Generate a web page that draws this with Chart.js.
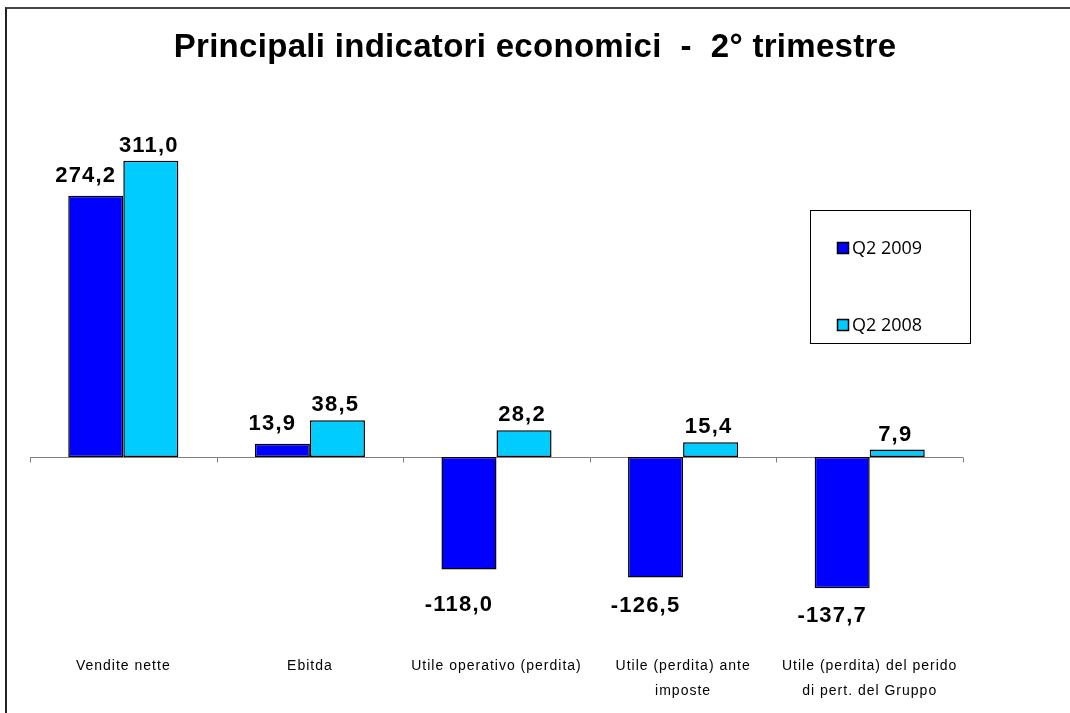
<!DOCTYPE html>
<html><head><meta charset="utf-8">
<script src="https://cdn.jsdelivr.net/npm/chart.js@4/dist/chart.umd.min.js"></script>
<style>
html,body{margin:0;padding:0;background:#fff;}
#wrap{position:absolute;left:0;top:0;width:1070px;height:713px;}
#frame{position:absolute;left:5px;top:7px;width:1065px;height:706px;border-top:2px solid #444;border-left:2px solid #222;box-sizing:border-box;pointer-events:none;}
canvas{position:absolute;left:0;top:0;}
</style></head><body>
<div id="wrap"><canvas id="c" width="1070" height="713"></canvas><div id="frame"></div></div>
<script>
const chartTitle = 'Principali indicatori economici  -  2° trimestre';
const categories = [['Vendite nette'], ['Ebitda'], ['Utile operativo (perdita)'], ['Utile (perdita) ante', 'imposte'], ['Utile (perdita) del perido', 'di pert. del Gruppo']];
const seriesNames = ['Q2 2009', 'Q2 2008'];
const q2_2009 = [274.2, 13.9, -118.0, -126.5, -137.7];
const q2_2008 = [311.0, 38.5, 28.2, 15.4, 7.9];

const colors = ['#0000FF', '#00CCFF'];
const fmt = v => v.toFixed(1).replace('.', ',');

const decor = {
  id: 'decor',
  beforeDraw(chart) {
    try { chart.ctx.letterSpacing = '1px'; } catch (e) {}
  },
  beforeDatasetsDraw(chart) {
    const {ctx, chartArea, scales} = chart;
    const y0 = Math.round(scales.y.getPixelForValue(0)) + 0.5;
    const n = categories.length;
    const w = (chartArea.right - chartArea.left) / n;
    ctx.save();
    ctx.strokeStyle = '#808080';
    ctx.lineWidth = 1;
    ctx.beginPath();
    ctx.moveTo(chartArea.left, y0);
    ctx.lineTo(chartArea.right, y0);
    for (let i = 0; i <= n; i++) {
      const x = Math.round(chartArea.left + i * w) + 0.5;
      ctx.moveTo(x, y0);
      ctx.lineTo(x, y0 + 5);
    }
    ctx.stroke();
    ctx.restore();
  },
  afterDatasetsDraw(chart) {
    const {ctx, chartArea} = chart;
    ctx.save();
    // data labels
    ctx.font = 'bold 22px "Liberation Sans", Arial, sans-serif';
    ctx.fillStyle = '#000';
    ctx.textAlign = 'center';
    ctx.textBaseline = 'middle';
    try { ctx.letterSpacing = '1.2px'; } catch (e) {}
    chart.data.datasets.forEach((ds, di) => {
      const meta = chart.getDatasetMeta(di);
      meta.data.forEach((bar, i) => {
        const v = ds.data[i];
        const dx = di === 0 ? -10 : -2;
        let y;
        if (v >= 0) y = bar.y - (di === 0 ? 20 : 15);
        else y = Math.max(bar.y + 28, chartArea.bottom - 14);
        ctx.fillText(fmt(v), bar.x + dx, y);
      });
    });
    // title
    ctx.font = 'bold 33px "Liberation Sans", Arial, sans-serif';
    try { ctx.letterSpacing = '0.3px'; } catch (e) {}
    ctx.fillText(chartTitle, chart.width / 2, 48);
    try { ctx.letterSpacing = '0px'; } catch (e) {}
    // legend
    ctx.strokeStyle = '#000';
    ctx.lineWidth = 1;
    ctx.strokeRect(810.5, 210.5, 160, 133);
    ctx.font = '18px "Open Sans", "Liberation Sans", sans-serif';
    ctx.textAlign = 'left';
    const ys = [248, 325];
    seriesNames.forEach((name, i) => {
      ctx.fillStyle = colors[i];
      ctx.fillRect(837, ys[i] - 6, 12, 12);
      ctx.lineWidth = 1.5;
      ctx.strokeRect(837.5, ys[i] - 5.5, 11, 11);
      ctx.fillStyle = '#000';
      ctx.fillText(name, 852, ys[i] + 1);
    });
    ctx.restore();
  },
  afterDraw(chart) {
    try { chart.ctx.letterSpacing = '0px'; } catch (e) {}
  }
};

new Chart(document.getElementById('c'), {
  type: 'bar',
  data: {
    labels: categories,
    datasets: [
      {label: seriesNames[0], data: q2_2009, backgroundColor: colors[0], borderColor: '#000', borderWidth: 1.5, borderSkipped: false},
      {label: seriesNames[1], data: q2_2008, backgroundColor: colors[1], borderColor: '#000', borderWidth: 1.5, borderSkipped: false}
    ]
  },
  options: {
    responsive: false,
    animation: false,
    devicePixelRatio: 1,
    layout: {padding: {top: 95, left: 30, right: 107, bottom: 0}},
    datasets: {bar: {categoryPercentage: 0.59, barPercentage: 1.0}},
    plugins: {legend: {display: false}, tooltip: {enabled: false}, title: {display: false}},
    scales: {
      x: {
        grid: {display: false, drawTicks: false},
        border: {display: false},
        ticks: {color: '#000', font: {family: '"Liberation Sans", Arial, sans-serif', size: 14, lineHeight: 1.75}, padding: 35, maxRotation: 0, autoSkip: false},
        afterFit(s) { s.height = 94; }
      },
      y: {display: false, min: -170, max: 380}
    }
  },
  plugins: [decor]
});
</script>
</body></html>
